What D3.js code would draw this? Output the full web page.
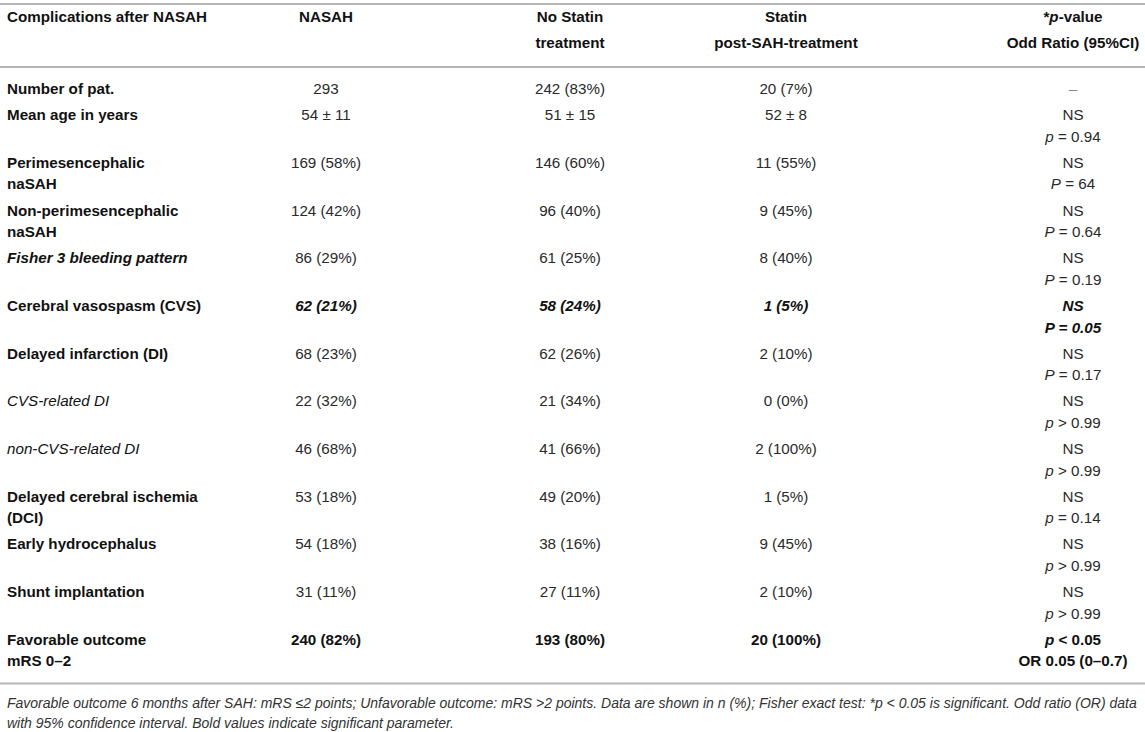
<!DOCTYPE html>
<html>
<head>
<meta charset="utf-8">
<script src="https://cdn.jsdelivr.net/npm/d3@7"></script>
<style>
  html, body { margin: 0; padding: 0; background: #fff; }
  svg { display: block; font-family: "Liberation Sans", Arial, Helvetica, sans-serif; }
</style>
</head>
<body>
<div id="table"></div>
<script>
// -----------------------------
// Table data
// _x_ marks an italic run inside a cell
// -----------------------------
const headers = [
  ["Complications after NASAH"],
  ["NASAH"],
  ["No Statin", "treatment"],
  ["Statin", "post-SAH-treatment"],
  ["*_p_-value", "Odd Ratio (95%CI)"]
];

const labels = [
  ["Number of pat."],
  ["Mean age in years"],
  ["Perimesencephalic", "naSAH"],
  ["Non-perimesencephalic", "naSAH"],
  ["Fisher 3 bleeding pattern"],
  ["Cerebral vasospasm (CVS)"],
  ["Delayed infarction (DI)"],
  ["CVS-related DI"],
  ["non-CVS-related DI"],
  ["Delayed cerebral ischemia", "(DCI)"],
  ["Early hydrocephalus"],
  ["Shunt implantation"],
  ["Favorable outcome", "mRS 0–2"]
];

// b = bold, i = italic, bi = bold italic, r = regular
const labelStyle = ["b", "b", "b", "b", "bi", "b", "b", "i", "i", "b", "b", "b", "b"];
const valueStyle = ["r", "r", "r", "r", "r", "bi", "r", "r", "r", "r", "r", "r", "b"];

const nasah    = ["293", "54 ± 11", "169 (58%)", "124 (42%)", "86 (29%)", "62 (21%)", "68 (23%)",
                  "22 (32%)", "46 (68%)", "53 (18%)", "54 (18%)", "31 (11%)", "240 (82%)"];
const noStatin = ["242 (83%)", "51 ± 15", "146 (60%)", "96 (40%)", "61 (25%)", "58 (24%)", "62 (26%)",
                  "21 (34%)", "41 (66%)", "49 (20%)", "38 (16%)", "27 (11%)", "193 (80%)"];
const statin   = ["20 (7%)", "52 ± 8", "11 (55%)", "9 (45%)", "8 (40%)", "1 (5%)", "2 (10%)",
                  "0 (0%)", "2 (100%)", "1 (5%)", "9 (45%)", "2 (10%)", "20 (100%)"];
const pTest    = ["–", "NS", "NS", "NS", "NS", "NS", "NS", "NS", "NS", "NS", "NS", "NS", "_p_ < 0.05"];
const pValue   = ["", "_p_ = 0.94", "_P_ = 64", "_P_ = 0.64", "_P_ = 0.19", "_P_ = 0.05", "_P_ = 0.17",
                  "_p_ > 0.99", "_p_ > 0.99", "_p_ = 0.14", "_p_ > 0.99", "_p_ > 0.99", "OR 0.05 (0–0.7)"];

const footnote = [
  "Favorable outcome 6 months after SAH: mRS ≤2 points; Unfavorable outcome: mRS >2 points. Data are shown in n (%); Fisher exact test: *p < 0.05 is significant. Odd ratio (OR) data",
  "with 95% confidence interval. Bold values indicate significant parameter."
];

// -----------------------------
// Layout
// -----------------------------
const W = 1145, H = 732;
const FONT = 15.2;
const LINE_H = 21.6;   // between lines inside a cell
const ROW_PAD = 4.5;   // extra gap between rows
const FIRST_ROW_Y = 89; // centre of the first body line

const cols = ["label", "nasah", "noStatin", "statin", "pval"];
const colX = d3.scaleOrdinal().domain(cols).range([7, 326, 570, 786, 1073]);
const colAnchor = d3.scaleOrdinal().domain(cols).range(["start", "middle", "middle", "middle", "middle"]);

const rows = labels.map((lab, i) => ({
  cells: {
    label: lab,
    nasah: [nasah[i]],
    noStatin: [noStatin[i]],
    statin: [statin[i]],
    pval: pValue[i] ? [pTest[i], pValue[i]] : [pTest[i]]
  },
  labelStyle: labelStyle[i],
  valueStyle: valueStyle[i]
}));

// row y positions from the number of lines in each row
rows.forEach(r => { r.nLines = d3.max(cols, c => r.cells[c].length); });
const cum = d3.cumsum(rows, r => r.nLines * LINE_H + ROW_PAD);
rows.forEach((r, i) => { r.y = FIRST_ROW_Y + (i ? cum[i - 1] : 0); });
const lastRow = rows[rows.length - 1];
const bottomLineY = lastRow.y + (lastRow.nLines - 1) * LINE_H + 22;

const svg = d3.select("#table").append("svg")
  .attr("width", W)
  .attr("height", H)
  .attr("viewBox", `0 0 ${W} ${H}`);

// rules
const ruleY = [4, 67, bottomLineY];
svg.selectAll("line.rule")
  .data(ruleY)
  .join("line")
  .attr("class", "rule")
  .attr("x1", 0).attr("x2", W)
  .attr("y1", d => d).attr("y2", d => d)
  .attr("stroke", "#b5b5b5")
  .attr("stroke-width", 2);

// write one line of text, splitting _italic_ runs into tspans
function writeLine(sel, str, style) {
  const parts = str.split("_");
  parts.forEach((p, k) => {
    if (!p) return;
    const italic = style.includes("i") || k % 2 === 1;
    sel.append("tspan")
      .attr("font-style", italic ? "italic" : "normal")
      .text(p);
  });
  sel.attr("font-weight", style.includes("b") ? "bold" : "normal");
}

// header
const headerY = [17, 43];
const hg = svg.append("g").attr("class", "header");
headers.forEach((lines, c) => {
  lines.forEach((ln, k) => {
    const t = hg.append("text")
      .attr("x", colX(cols[c]))
      .attr("y", headerY[k] + 5)
      .attr("text-anchor", colAnchor(cols[c]))
      .attr("font-size", FONT)
      .attr("fill", "#111");
    writeLine(t, ln, "b");
  });
});

// body
const bg = svg.append("g").attr("class", "body");
rows.forEach(r => {
  cols.forEach(c => {
    const style = c === "label" ? r.labelStyle : r.valueStyle;
    r.cells[c].forEach((ln, k) => {
      const t = bg.append("text")
        .attr("x", colX(c))
        .attr("y", r.y + k * LINE_H + 5)
        .attr("text-anchor", colAnchor(c))
        .attr("font-size", FONT)
        .attr("fill", ln === "–" ? "#888" : (style === "r" ? "#2a2a2a" : "#111"));
      writeLine(t, ln, style);
    });
  });
});

// footnote
svg.append("g").attr("class", "footnote")
  .selectAll("text")
  .data(footnote)
  .join("text")
  .attr("x", 7)
  .attr("y", (d, i) => bottomLineY + 20 + i * 20 + 5)
  .attr("font-size", 14)
  .attr("font-style", "italic")
  .attr("fill", "#333")
  .text(d => d);
</script>
</body>
</html>
